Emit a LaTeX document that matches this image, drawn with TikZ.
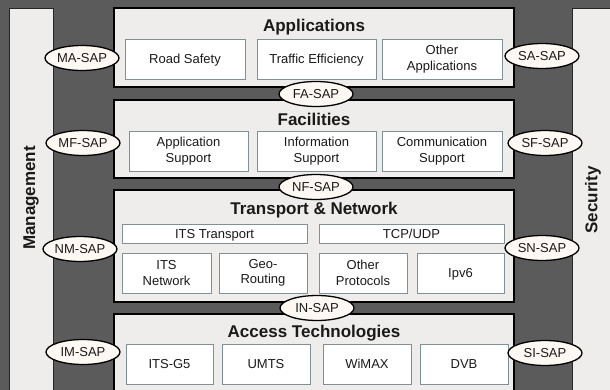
\documentclass[tikz,border=0pt]{standalone}
\usepackage{fontspec}
\setmainfont{Liberation Sans}
\usetikzlibrary{shapes.geometric}
\definecolor{bgdark}{HTML}{5B5B5B}
\definecolor{panel}{HTML}{EEEDEB}
\definecolor{inborder}{HTML}{7F9096}
\definecolor{sapfill}{HTML}{FDF8F1}
\definecolor{txt}{HTML}{1A1A1A}
\tikzset{
  layer/.style={draw=black, line width=1.4pt, fill=panel},
  sidebar/.style={draw=black!85, line width=0.8pt, fill=panel},
  title/.style={font=\fontsize{17}{19}\selectfont\bfseries, text=txt, inner sep=0},
  sidetitle/.style={font=\fontsize{17}{19}\selectfont\bfseries, text=txt, inner sep=0, rotate=90},
  inbox/.style={draw=inborder, line width=0.9pt, fill=white, inner sep=0,
    font=\fontsize{13}{15.5}\selectfont, text=txt, align=center},
  sap/.style={ellipse, draw=black, line width=1.3pt, fill=sapfill, inner sep=0,
    minimum width=74pt, minimum height=25pt, font=\fontsize{13}{15}\selectfont, text=txt},
}
\newcommand{\ibox}[6]{% name, x1, y1, x2, y2, text
  \node[inbox, minimum width={#4-#2}, minimum height={#5-#3}] (#1) at ({(#2+#4)/2},{(#3+#5)/2}) {#6};}
\newcommand{\oneline}[1]{\rule{0pt}{9.4pt}\smash{#1}}
\begin{document}
\begin{tikzpicture}[x=1pt, y=-1pt]
\useasboundingbox (0,0) rectangle (610,390);
\clip (0,0) rectangle (610,390);
\fill[bgdark] (0,0) rectangle (610,390);
% side bars
\draw[sidebar] (9,8) rectangle (53,400);
\draw[sidebar] (572,8) rectangle (620,400);
\node[sidetitle] (mgmt) at (31,198) {Management};
\node[sidetitle] (sec) at (593,200) {Security};
% layers
\draw[layer] (114,8) rectangle (514,87);
\draw[layer] (114,100) rectangle (514,178);
\draw[layer] (114,190) rectangle (514,302);
\draw[layer] (114,314) rectangle (514,400);
\node[title] (tapp) at (314,27) {Applications};
\node[title] (tfac) at (314,119) {Facilities};
\node[title] (ttn) at (314,210) {Transport \& Network};
\node[title] (tacc) at (314,333) {Access Technologies};
% applications
\ibox{rs}{125}{39}{245}{79}{\oneline{Road Safety}}
\ibox{te}{257}{39}{376}{79}{\oneline{Traffic Efficiency}}
\ibox{oa}{382}{39}{502}{79}{Other\\Applications}
% facilities
\ibox{as}{129}{131}{248}{171}{Application\\Support}
\ibox{is}{257}{131}{376}{171}{Information\\Support}
\ibox{cs}{382}{131}{502}{171}{Communication\\Support}
% transport & network
\ibox{itst}{122}{224}{307}{243}{\oneline{ITS Transport}}
\ibox{tcp}{319}{224}{504}{243}{\oneline{TCP/UDP}}
\ibox{itsn}{122}{253}{211}{293}{ITS\\Network}
\ibox{geo}{219}{253}{307}{293}{Geo-\\Routing}
\ibox{op}{319}{253}{407}{293}{Other\\Protocols}
\ibox{ipv}{417}{253}{504}{293}{\oneline{Ipv6}}
% access
\ibox{g5}{126}{344}{213}{384}{\oneline{ITS-G5}}
\ibox{umts}{222}{344}{310}{384}{\oneline{UMTS}}
\ibox{wimax}{323}{344}{411}{384}{\oneline{WiMAX}}
\ibox{dvb}{420}{344}{508}{384}{\oneline{DVB}}
% SAPs
\node[sap] (masap) at (82,58) {MA-SAP};
\node[sap] (mfsap) at (83,143) {MF-SAP};
\node[sap] (nmsap) at (80,249) {NM-SAP};
\node[sap] (imsap) at (83,352) {IM-SAP};
\node[sap] (sasap) at (542,56) {SA-SAP};
\node[sap] (sfsap) at (545,143) {SF-SAP};
\node[sap] (snsap) at (542,248) {SN-SAP};
\node[sap] (sisap) at (545,353) {SI-SAP};
\node[sap] (fasap) at (316,94) {FA-SAP};
\node[sap] (nfsap) at (316,187) {NF-SAP};
\node[sap] (insap) at (317,308) {IN-SAP};
\end{tikzpicture}
\end{document}
